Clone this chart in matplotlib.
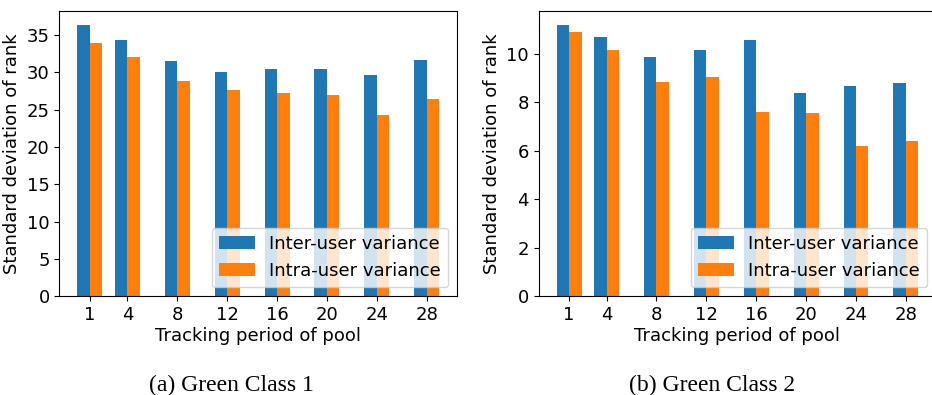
import numpy as np
import matplotlib
matplotlib.use("Agg")
import matplotlib.pyplot as plt

periods = [1, 4, 8, 12, 16, 20, 24, 28]
tick_labels = ["1", "4", "8", "12", "16", "20", "24", "28"]

# Green Class 1
inter_c1 = [36.4, 34.4, 31.5, 30.1, 30.4, 30.4, 29.6, 31.6]
intra_c1 = [33.9, 32.0, 28.8, 27.7, 27.2, 27.0, 24.3, 26.4]

# Green Class 2
inter_c2 = [11.21, 10.71, 9.89, 10.18, 10.59, 8.40, 8.69, 8.81]
intra_c2 = [10.92, 10.18, 8.86, 9.06, 7.61, 7.57, 6.21, 6.42]

plt.rcParams['font.size'] = 13

fig = plt.figure(figsize=(9.32, 3.95), dpi=100)
ax1 = fig.add_axes([0.0637, 0.25, 0.427, 0.722])
ax2 = fig.add_axes([0.5778, 0.25, 0.427, 0.722])

x = np.array(periods)
w = 1.0
for ax, inter, intra in [(ax1, inter_c1, intra_c1), (ax2, inter_c2, intra_c2)]:
    ax.bar(x - w / 2, inter, w, color='#1f77b4', label='Inter-user variance')
    ax.bar(x + w / 2, intra, w, color='#ff7f0e', label='Intra-user variance')
    ax.set_xticks(x)
    ax.set_xticklabels(tick_labels)
    ax.set_xlabel('Tracking period of pool', labelpad=2)
    ax.set_ylabel('Standard deviation of rank')
    ax.legend(loc='lower right')

ax1.set_yticks(range(0, 36, 5))

fig.text(0.2486, 0.009, '(a) Green Class 1', ha='center', va='baseline',
         family='Liberation Serif', fontsize=17)
fig.text(0.7636, 0.009, '(b) Green Class 2', ha='center', va='baseline',
         family='Liberation Serif', fontsize=17)

fig.savefig('out.png', dpi=100)
